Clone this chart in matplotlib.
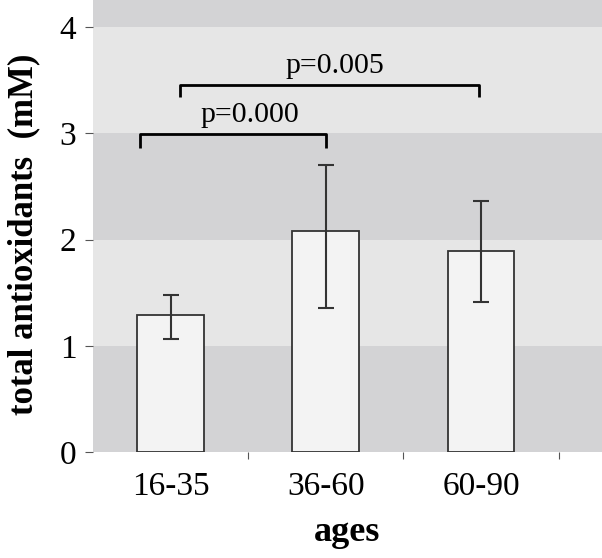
import matplotlib
matplotlib.use("Agg")
import matplotlib.pyplot as plt

# data
ages = ["16-35", "36-60", "60-90"]
means = [1.29, 2.08, 1.89]
err_low = [1.06, 1.36, 1.41]
err_high = [1.48, 2.70, 2.36]

# significance brackets: (x start, x end, top, drop)
brackets = [(-0.2, 1.0, 2.99, 0.13),
            (0.06, 1.99, 3.46, 0.12)]
# p labels: (x centre, baseline y, text)
p_labels = [(0.51, 3.105, "p=0.000"),
            (1.06, 3.57, "p=0.005")]

plt.rcParams['font.family'] = ['Liberation Serif', 'DejaVu Serif']

fig = plt.figure(figsize=(6.02, 5.58), dpi=100)
ax = fig.add_axes([93 / 602, 1 - 452 / 558, 1 - 93 / 602, 452 / 558])

ymax = 452 / 106.2
# alternating grey bands
band_cols = ['#d3d3d5', '#e6e6e6']
for i in range(5):
    ax.axhspan(i, i + 1, color=band_cols[i % 2], lw=0, zorder=0)

x = list(range(len(ages)))
yerr = [[m - lo for m, lo in zip(means, err_low)],
        [hi - m for m, hi in zip(means, err_high)]]
ax.bar(x, means, width=0.43, color='#f3f3f3', edgecolor='#333333',
       linewidth=1.3, zorder=2)
ax.errorbar(x, means, yerr=yerr, fmt='none', ecolor='#333333',
            elinewidth=1.5, capsize=5.5, capthick=1.5, zorder=3)

for x0, x1, top, drop in brackets:
    ax.plot([x0, x0, x1, x1], [top - drop, top, top, top - drop],
            color='black', lw=2, zorder=4, solid_capstyle='butt')
for px, py, label in p_labels:
    ax.text(px, py, label, ha='center', va='baseline', fontsize=21.5)

ax.set_xlim(-0.5, 2.78)
ax.set_ylim(0, ymax)
ax.set_yticks([0, 1, 2, 3, 4])
ax.set_xticks([0.5, 1.5, 2.5])
ax.set_xticklabels([])
ax.set_xticks(x, minor=True)
ax.set_xticklabels(ages, minor=True, fontsize=24)
ax.tick_params(axis='x', which='minor', length=0, pad=14)
ax.tick_params(axis='x', which='major', length=5, color='#555555')
ax.tick_params(axis='y', length=6, color='#555555', labelsize=24, pad=6)
for s in ax.spines.values():
    s.set_visible(False)

ax.set_xlabel("ages", fontsize=26, fontweight='bold', labelpad=10)
fig.text(24 / 602, 1 - 234 / 558, "total antioxidants  (mM)", rotation=90,
         ha='center', va='center', fontsize=25, fontweight='bold')

fig.savefig("out.png", dpi=100)
